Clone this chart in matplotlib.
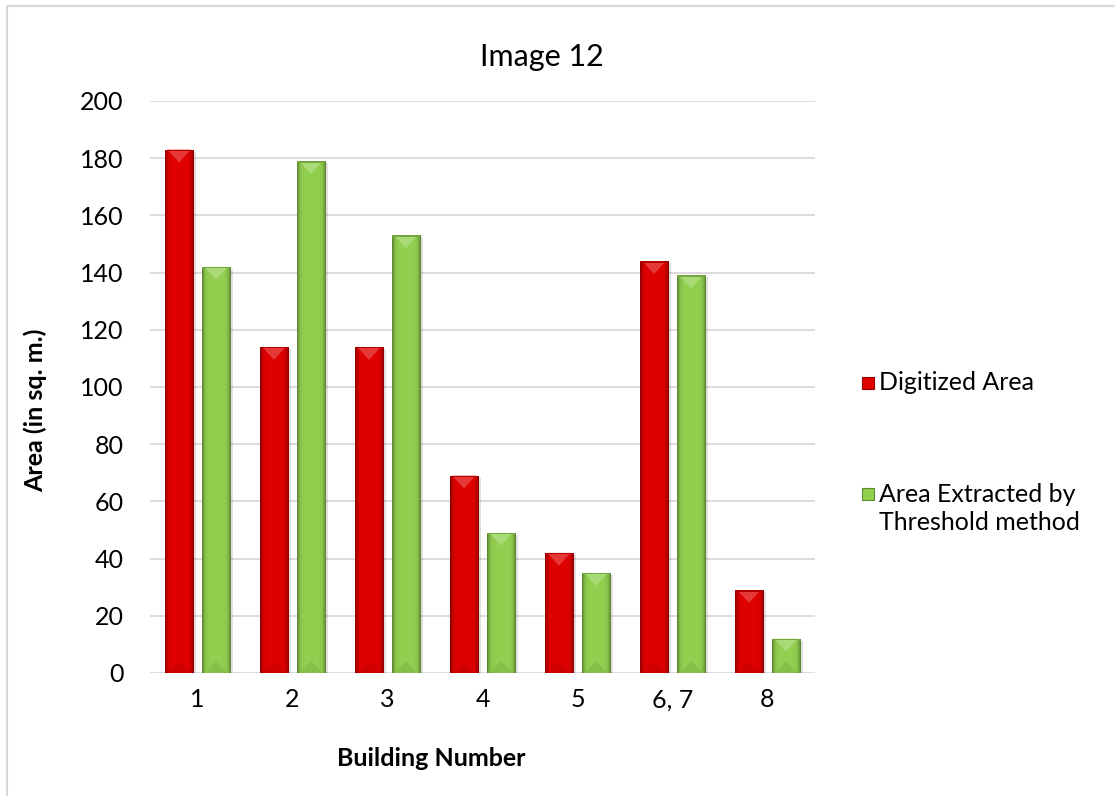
import numpy as np
import matplotlib
matplotlib.use("Agg")
import matplotlib.pyplot as plt
from matplotlib.patches import Polygon, Rectangle
from matplotlib.lines import Line2D
from matplotlib.colors import to_rgb

plt.rcParams['font.family'] = ['Lato', 'DejaVu Sans']

# Data
buildings = ["1", "2", "3", "4", "5", "6, 7", "8"]
digitized_area = [183, 114, 114, 69, 42, 144, 29]
threshold_area = [142, 179, 153, 49, 35, 139, 12]
series_names = ["Digitized Area", "Area Extracted by", "Threshold method"]
series_colors = ["#E00000", "#92D050"]
y_ticks = [0, 20, 40, 60, 80, 100, 120, 140, 160, 180, 200]

W, H = 1115, 796
fig = plt.figure(figsize=(W / 100, H / 100), dpi=100)
fig.patch.set_facecolor("white")

# chart frame (top and left edges visible)
fig.add_artist(Line2D([7 / W, 7 / W], [0, 1 - 6 / H], color="#D9D9D9", lw=1.5))
fig.add_artist(Line2D([7 / W, 1], [1 - 6 / H, 1 - 6 / H], color="#D9D9D9", lw=1.5))

ax = fig.add_axes([150 / W, 1 - 673 / H, 665 / W, 572 / H])
ax.set_xlim(-0.5, len(buildings) - 0.5)
ax.set_ylim(0, 200)
for s in ax.spines.values():
    s.set_visible(False)
ax.set_yticks(y_ticks)
ax.yaxis.grid(True, color="#D9D9D9", lw=1.3)
ax.set_axisbelow(True)
ax.tick_params(axis="y", length=0, pad=19, labelsize=18)
ax.tick_params(axis="x", length=0, pad=11, labelsize=18)
x = np.arange(len(buildings))
ax.set_xticks(x)
ax.set_xticklabels(buildings)

width = 0.30
offset = 0.195


def shade(c, f):
    r = np.array(to_rgb(c))
    if f < 0:
        return tuple(r * (1 + f))
    return tuple(r + (1 - r) * f)


def bevel_bars(xs, vals, color):
    bars = ax.bar(xs, vals, width, color=color, zorder=3, linewidth=0)
    px_w = 665 / 7.0
    px_h = 572 / 200.0
    for b in bars:
        x0, w, h = b.get_x(), b.get_width(), b.get_height()
        # soft drop shadow
        ax.add_patch(Rectangle((x0 + 3 / px_w, 0), w, h - 2 / px_h,
                               color="#000000", alpha=0.12, lw=0, zorder=2))
        # horizontal gradient: darker at the edges
        grad = np.linspace(-1, 1, 64)
        prof = 1 - np.abs(grad) ** 6
        img = np.zeros((1, 64, 3))
        base = np.array(to_rgb(color))
        dark = np.array(shade(color, -0.4))
        for i, p in enumerate(prof):
            img[0, i] = dark + (base - dark) * p
        im = ax.imshow(img, extent=[x0, x0 + w, 0, h], aspect="auto",
                       zorder=3.5, interpolation="bilinear")
        im.set_clip_path(b)
        # bevel triangles: top light, bottom slightly dark
        tri_h = min(w * px_w * 0.45 / px_h, h * 0.5)
        inset = 2.5 / px_w
        top = Polygon([(x0 + inset, h), (x0 + w - inset, h),
                       (x0 + w / 2, h - tri_h)], closed=True,
                      color=shade(color, 0.22), lw=0, zorder=4)
        ax.add_patch(top)
        bot = Polygon([(x0 + inset, 0), (x0 + w - inset, 0),
                       (x0 + w / 2, tri_h * 0.9)], closed=True,
                      color=shade(color, -0.08), lw=0, zorder=4)
        ax.add_patch(bot)
        # thin top edge
        ax.add_patch(Rectangle((x0, h - 1.5 / px_h), w, 1.5 / px_h,
                               color=shade(color, -0.2), lw=0, zorder=4.5))
    return bars


bevel_bars(x - offset, digitized_area, series_colors[0])
bevel_bars(x + offset, threshold_area, series_colors[1])

fig.text(542 / W, 1 - 57 / H, "Image 12", ha="center", va="center", fontsize=22)
fig.text(431 / W, 1 - 758 / H, "Building Number", ha="center", va="center",
         fontsize=18, fontweight="bold")
fig.text(35 / W, 1 - 410 / H, "Area (in sq. m.)", ha="center", va="center",
         rotation=90, fontsize=18, fontweight="bold")

# legend: marker squares and entry text
for yc, col in [(383, series_colors[0]), (494, series_colors[1])]:
    sq = 12
    fig.add_artist(Rectangle((862 / W, 1 - (yc + sq / 2) / H), sq / W, sq / H,
                             facecolor=col, edgecolor=shade(col, -0.35),
                             lw=0.8, transform=fig.transFigure))
fig.text(879 / W, 1 - 383 / H, series_names[0], ha="left", va="center", fontsize=18)
fig.text(879 / W, 1 - 494 / H, series_names[1], ha="left", va="center", fontsize=18)
fig.text(879 / W, 1 - 523 / H, series_names[2], ha="left", va="center", fontsize=18)

fig.savefig("out.png", dpi=100, facecolor="white")
